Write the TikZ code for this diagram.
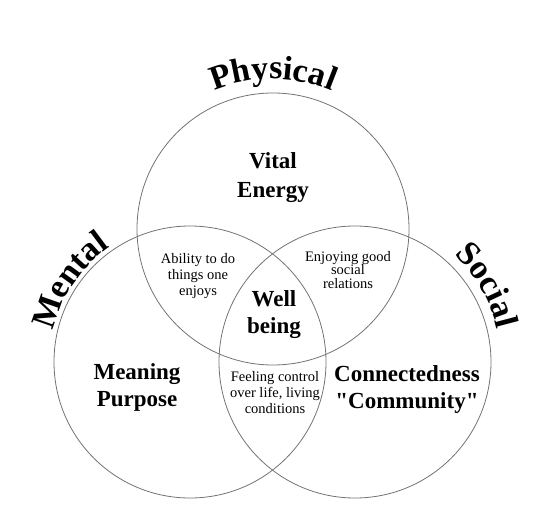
\documentclass[tikz,border=0pt]{standalone}
\usepackage{fontspec}
\setmainfont{Liberation Serif}
\newfontfamily\qfont{Liberation Serif}
\usetikzlibrary{calc,decorations.text}

\begin{document}
\begin{tikzpicture}[x=1pt,y=1pt,
  ring/.style={draw=black!55,line width=0.8pt},
  big/.style={font=\fontsize{23}{27}\selectfont\bfseries,align=center},
  small/.style={font=\fontsize{14.5}{16}\selectfont,align=center},
  title/.style={decorate,decoration={text along path,text align=center,
      text={|\fontsize{34}{34}\selectfont\bfseries|#1}}}]
  \useasboundingbox (0,0) rectangle (543,504);
  % circulos
  \coordinate (phys) at (273,275);
  \coordinate (ment) at (190,142);
  \coordinate (soc) at (355,142);
  \foreach \c in {phys,ment,soc}
    \draw[ring] (\c) circle[radius=136];
  % titulos curvos
  \path[title=Physical] ($(phys)+(125:150)$) arc[start angle=125,end angle=55,radius=150];
  \path[title=Mental] ($(ment)+(194:140)$) arc[start angle=194,end angle=98,radius=140];
  \path[title=Social] ($(soc)+(78:146)$) arc[start angle=78,end angle=-18,radius=146];
  % textos
  \node[big,font=\fontsize{23}{29}\selectfont\bfseries] (vital) at (273,326) {Vital\\Energy};
  \node[big] (well) at (274,189) {Well\\being};
  \node[big] (meaning) at (137,117) {Meaning\\Purpose};
  \node[big] (connect) at (407,115) {Connectedness\\{\qfont"}Community{\qfont"}};
  \node[small] (ability) at (198,228) {Ability to do\\things one\\enjoys};
  \node[small,font=\fontsize{14.5}{13.5}\selectfont] (enjoy) at (348,234) {Enjoying good\\social\\relations};
  \node[small] (control) at (275,111) {Feeling control\\over life, living\\conditions};
\end{tikzpicture}
\end{document}
